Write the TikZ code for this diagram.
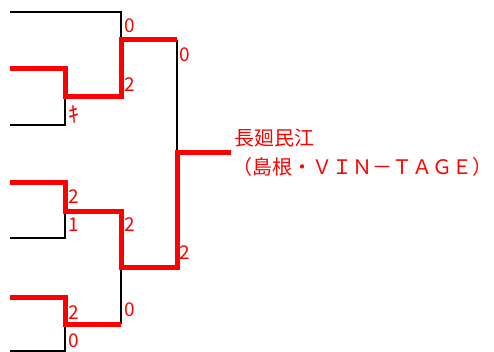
\documentclass[tikz,border=0pt]{standalone}
\usepackage{fontspec}
\setmainfont{Noto Sans CJK JP}
\definecolor{wred}{HTML}{FF0000}
\tikzset{
  loser/.style={draw=black, line width=2.8pt, line join=miter},
  winner/.style={draw=wred, line width=5pt, line join=miter},
  score/.style={text=wred, font=\fontsize{19}{19}\selectfont, anchor=west, inner sep=0pt},
  champ/.style={text=wred, font=\fontsize{20}{22}\selectfont, anchor=west, inner sep=0pt}
}
\begin{document}
\begin{tikzpicture}[x=1pt,y=-1pt]
\useasboundingbox (0,0) rectangle (494,352);
% entry points
\coordinate (e1) at (10,12);
\coordinate (e2) at (10,69);
\coordinate (e3) at (10,125);
\coordinate (e4) at (10,183);
\coordinate (e5) at (10,238);
\coordinate (e6) at (10,297);
\coordinate (e7) at (10,351);
% first round corners
\coordinate (a2) at (65,69);
\coordinate (a3) at (65,125);
\coordinate (m1) at (65,97);
\coordinate (a4) at (65,183);
\coordinate (a5) at (65,238);
\coordinate (m2) at (65,212);
\coordinate (a6) at (65,297);
\coordinate (a7) at (65,351);
\coordinate (m3) at (65,324);
% second round
\coordinate (b1) at (121,12);
\coordinate (b2) at (121,97);
\coordinate (n1) at (121,40);
\coordinate (b3) at (121,212);
\coordinate (b4) at (121,324);
\coordinate (n2) at (121,267);
% final
\coordinate (c1) at (177,40);
\coordinate (c2) at (177,267);
\coordinate (f) at (177,153);
\coordinate (w) at (231,153);
% losers (black)
\draw[loser] (e1) -- (b1) -- (n1);
\draw[loser] (e3) -- (a3) -- (m1);
\draw[loser] (c1) -- (f);
\draw[loser] (e5) -- (a5) -- (m2);
\draw[loser] (n2) -- (b4);
\draw[loser] (e7) -- (a7) -- (m3);
% winners (red)
\draw[winner] (e2) -- (a2) -- (m1) -- (b2) -- (n1) -- (c1);
\draw[winner] (e4) -- (a4) -- (m2) -- (b3) -- (n2) -- (c2) -- (f) -- (w);
\draw[winner] (e6) -- (a6) -- (m3) -- (b4);
% scores
\node[score] (s1) at (124,26) {0};
\node[score] (s2) at (124,85) {2};
\node[score] (s3) at (179,55) {0};
\node[score] (s4) at (179,253) {2};
\node[score, font=\fontsize{22}{22}\selectfont] (s5) at (68,114) {ｷ};
\node[score] (s6) at (68,197) {2};
\node[score] (s7) at (68,225) {1};
\node[score] (s8) at (124,225) {2};
\node[score] (s9) at (124,310) {0};
\node[score] (s10) at (68,313) {2};
\node[score] (s11) at (68,341) {0};
% champion
\node[champ] (t1) at (234,138) {長廻民江};
\node[champ] (t2) at (232,167) {（島根・ＶＩＮ－ＴＡＧＥ）};
\end{tikzpicture}
\end{document}
